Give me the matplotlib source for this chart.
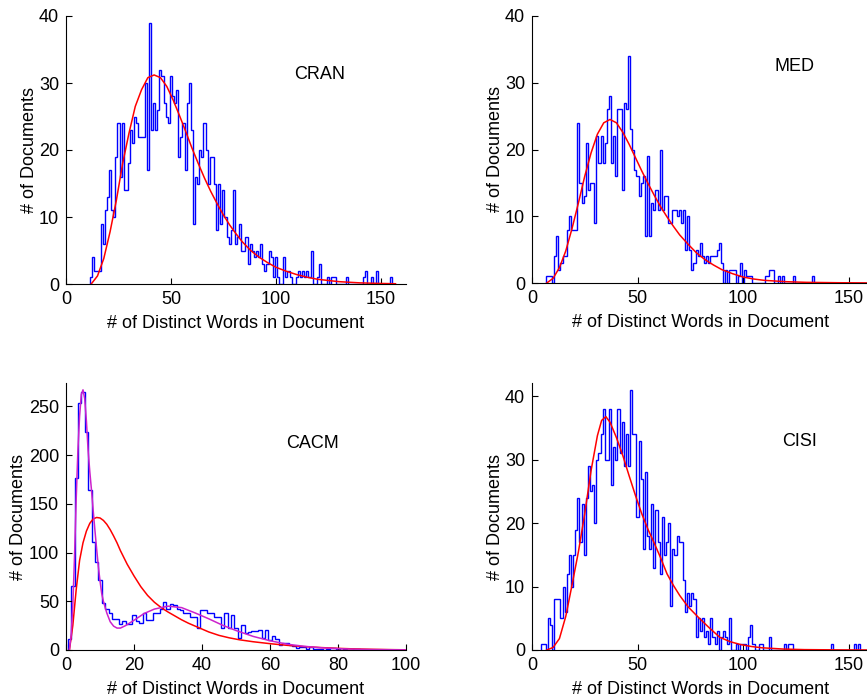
import numpy as np
import matplotlib.pyplot as plt

plt.rcParams['font.family'] = ['Liberation Sans', 'DejaVu Sans']
plt.rcParams['font.size'] = 13

# ---- data: histogram counts per number of distinct words (bin width 1) ----
cran_first = 12
cran_counts = [
    1, 4, 2, 2, 2, 9, 6, 11,                    # 12-19
    13, 17, 11, 10, 19, 24, 16, 24, 14, 14,     # 20-29
    18, 23, 21, 25, 24, 22, 22, 22, 30, 17,     # 30-39
    39, 23, 27, 23, 26, 32, 31, 27, 25, 24,     # 40-49
    31, 28, 27, 29, 19, 22, 24, 17, 27, 30,     # 50-59
    23, 9, 16, 15, 20, 19, 24, 20, 15, 19,      # 60-69
    19, 15, 8, 15, 9, 14, 10, 7, 6, 8,          # 70-79
    14, 6, 7, 9, 5, 5, 7, 3, 6, 5,              # 80-89
    4, 5, 4, 6, 3, 2, 3, 5, 4, 1,               # 90-99
    4, 1, 0, 0, 4, 1, 2, 1, 0, 0,               # 100-109
    1, 2, 1, 2, 1, 2, 1, 5, 0, 0,               # 110-119
    1, 3, 0, 0, 0, 1, 0, 1, 1, 0,               # 120-129
    0, 0, 0, 0, 1, 0, 0, 0, 0, 0,               # 130-139
    0, 0, 1, 2, 0, 0, 1, 0, 2, 0,               # 140-149
    0, 0, 0, 0, 0, 1]                           # 150-155

med_first = 7
med_counts = [
    1, 1, 1,                                    # 7-9
    0, 4, 7, 2, 3, 4, 4, 8, 10, 8,              # 10-19
    8, 8, 24, 15, 12, 13, 21, 14, 15, 15,       # 20-29
    9, 22, 18, 22, 18, 21, 26, 28, 18, 22,      # 30-39
    16, 26, 26, 14, 27, 26, 34, 23, 20, 17,     # 40-49
    16, 13, 15, 16, 7, 19, 7, 12, 11, 14,       # 50-59
    11, 20, 11, 13, 13, 9, 9, 11, 11, 10,       # 60-69
    11, 9, 11, 5, 10, 5, 2, 3, 5, 4,            # 70-79
    6, 4, 3, 4, 3, 4, 4, 4, 5, 6,               # 80-89
    3, 0, 2, 0, 2, 2, 2, 0, 1, 3,               # 90-99
    0, 2, 1, 1, 1, 0, 0, 0, 0, 0,               # 100-109
    0, 1, 1, 2, 2, 0, 0, 1, 0, 1,               # 110-119
    0, 0, 0, 0, 1, 0, 0, 0, 0, 0,               # 120-129
    0, 0, 0, 1, 0, 0, 0, 0, 0, 0,               # 130-139
    0, 0, 0, 0, 0, 0, 0, 0, 0, 0,               # 140-149
    0, 0, 0, 0, 0, 0, 0, 0, 0, 0]               # 150-159

cacm_first = 1
cacm_counts = [
    11, 66, 176, 253, 265, 224, 164, 111, 90,   # 1-9
    72, 48, 42, 38, 32, 32, 27, 30, 27, 27,     # 10-19
    36, 30, 28, 38, 31, 31, 38, 38, 42, 49,     # 20-29
    42, 47, 46, 42, 41, 38, 38, 34, 34, 23,     # 30-39
    41, 41, 38, 38, 34, 34, 23, 38, 23, 36,     # 40-49
    23, 12, 26, 17, 18, 20, 20, 21, 12, 21,     # 50-59
    10, 14, 11, 5, 7, 7, 5, 4, 2, 3,            # 60-69
    3, 1, 3, 1, 1, 1, 0, 1, 2, 2,               # 70-79
    1, 0, 1, 0, 0, 1, 1, 0, 0, 0,               # 80-89
    0, 0, 0, 0, 0, 0, 0, 0, 0]                  # 90-98

cisi_first = 5
cisi_counts = [
    1, 1, 0, 5, 4,                              # 5-9
    0, 8, 8, 8, 5, 10, 6, 12, 15, 10,           # 10-19
    15, 19, 24, 17, 23, 15, 24, 29, 25, 26,     # 20-29
    20, 30, 31, 34, 38, 30, 30, 38, 26, 32,     # 30-39
    30, 38, 31, 36, 29, 34, 29, 41, 34, 34,     # 40-49
    21, 33, 27, 16, 28, 18, 16, 23, 13, 22,     # 50-59
    17, 12, 21, 15, 17, 20, 7, 16, 15, 18,      # 60-69
    17, 17, 11, 6, 9, 7, 9, 8, 2, 5,            # 70-79
    3, 5, 2, 3, 1, 5, 2, 1, 3, 0,               # 80-89
    2, 3, 2, 1, 5, 0, 0, 1, 0, 1,               # 90-99
    1, 1, 0, 2, 4, 1, 0, 0, 1, 1,               # 100-109
    0, 0, 0, 2, 0, 0, 0, 0, 0, 0,               # 110-119
    1, 0, 1, 1, 0, 0, 0, 0, 0, 0,               # 120-129
    0, 0, 0, 0, 0, 0, 0, 0, 0, 0,               # 130-139
    0, 0, 1, 0, 0, 0, 0, 0, 0, 0,               # 140-149
    0, 0, 0, 1, 0, 1, 0, 0, 0, 0]               # 150-159

# ---- fitted curves ----
cran_fit_x = [12, 15, 18, 21, 24, 27, 30, 33, 36, 39, 42, 45, 48, 51, 54, 57,
              60, 63, 66, 69, 72, 75, 78, 81, 84, 88, 92, 96, 100, 105, 110,
              115, 120, 130, 140, 150, 157]
cran_fit_y = [0, 1.2, 3.8, 7.8, 12.5, 18, 22.5, 26.5, 29, 30.8, 31.2, 30.8,
              29.5, 27.5, 25.2, 22.8, 20.3, 18, 15.8, 13.8, 12, 10.3, 8.8,
              7.5, 6.3, 5.0, 4.0, 3.2, 2.5, 1.9, 1.4, 1.0, 0.7, 0.35, 0.17,
              0.08, 0.04]

med_fit_x = [7, 10, 13, 16, 19, 22, 25, 28, 31, 34, 37, 40, 43, 46, 49, 52,
             55, 58, 61, 64, 67, 70, 74, 78, 82, 86, 90, 95, 100, 105, 110,
             120, 130, 145, 160]
med_fit_y = [0, 0.7, 2.3, 4.8, 8.2, 12, 16, 19.5, 22.3, 24, 24.5, 24, 22.6,
             20.8, 18.8, 16.8, 14.9, 13.1, 11.4, 9.9, 8.5, 7.2, 5.8, 4.5, 3.5,
             2.7, 2.0, 1.4, 0.9, 0.6, 0.4, 0.2, 0.1, 0.04, 0.01]

cacm_fit_x = [1, 2, 3, 4, 5, 6, 7, 8, 9, 10, 11, 12, 13, 14, 15, 16, 18, 20,
              22, 24, 26, 28, 30, 32, 34, 36, 39, 42, 45, 48, 51, 55, 60, 65,
              70, 75, 80, 85, 90, 95, 100]
cacm_fit_y = [0, 25, 62, 92, 110, 122, 130, 134.5, 136, 135.5, 133, 129,
              123.5, 117, 110, 102, 88, 76, 65, 56, 49, 43.5, 39, 35, 31,
              27.5, 23, 18.5, 15, 12.5, 10.5, 8.5, 6.5, 4.8, 3.5, 2.5, 1.7,
              1.1, 0.7, 0.4, 0.2]

cacm_mix_x = [1, 1.5, 2, 2.5, 3, 3.5, 4, 4.5, 5, 5.5, 6, 6.5, 7, 7.5, 8, 8.5,
              9, 9.5, 10, 10.5, 11, 12, 13, 14, 15, 16, 17.5, 20, 23, 26, 30,
              34, 38, 42, 46, 50, 55, 60, 65, 70, 75, 80, 85, 90, 100]
cacm_mix_y = [0, 15, 45, 95, 155, 205, 240, 262, 267, 258, 235, 205, 183,
              164, 143, 123, 104, 86, 71, 58, 50, 38, 29, 24.5, 22.5, 22.5,
              25, 30.5, 37.5, 42, 45, 43.5, 38, 32, 25.5, 20, 14, 9.5, 6, 3.8,
              2.3, 1.4, 0.8, 0.45, 0.12]

cisi_fit_x = [7, 10, 13, 16, 19, 22, 25, 28, 31, 33, 35, 37, 40, 43, 46, 49,
              52, 55, 58, 61, 64, 67, 70, 74, 79, 84, 89, 94, 99, 104, 109,
              119, 129, 144, 160]
cisi_fit_y = [0, 0.4, 1.8, 5.3, 10.3, 15.5, 21.5, 28.3, 33.8, 36.2, 36.8,
              35.9, 33.5, 30.7, 27.5, 24.4, 21.5, 19, 16.8, 14.5, 12, 10.2,
              8.6, 6.8, 5.1, 3.5, 2.0, 1.3, 0.85, 0.55, 0.35, 0.15, 0.06, 0.02,
              0.0]

W, H = 867, 698
fig = plt.figure(figsize=(W / 100, H / 100), dpi=100)


def px_axes(left, top, right, bottom):
    return fig.add_axes([left / W, 1 - bottom / H, (right - left) / W, (bottom - top) / H])


def style(ax, xlim, ylim, xticks, yticks, name, name_xy):
    ax.set_xlim(*xlim)
    ax.set_ylim(*ylim)
    ax.set_xticks(xticks)
    ax.set_yticks(yticks)
    for s in ['top', 'right']:
        ax.spines[s].set_visible(False)
    for s in ['left', 'bottom']:
        ax.spines[s].set_linewidth(0.8)
    ax.tick_params(direction='in', length=4, width=0.8, labelsize=13, pad=5)
    ax.set_xlabel('# of Distinct Words in Document', fontsize=13, labelpad=5)
    ax.set_ylabel('# of Documents', fontsize=13, labelpad=1)
    ax.text(name_xy[0], name_xy[1], name, fontsize=13, ha='center', va='center')


def hist(ax, first, counts):
    edges = np.arange(first, first + len(counts) + 1) - 0.5
    ax.stairs(counts, edges, color='#0000ff', lw=1.0, baseline=0)


# CRAN
ax1 = px_axes(66, 16, 406, 284)
hist(ax1, cran_first, cran_counts)
ax1.plot(cran_fit_x, cran_fit_y, color='#ff0000', lw=1.1)
style(ax1, (0, 162), (0, 40), [0, 50, 100, 150], [0, 10, 20, 30, 40], 'CRAN', (121, 31.2))

# MED
ax2 = px_axes(532, 16, 869.6, 283)
hist(ax2, med_first, med_counts)
ax2.plot(med_fit_x, med_fit_y, color='#ff0000', lw=1.1)
style(ax2, (0, 160), (0, 40), [0, 50, 100, 150], [0, 10, 20, 30, 40], 'MED', (124.3, 32.4))

# CACM
ax3 = px_axes(66, 383, 406, 650)
hist(ax3, cacm_first, cacm_counts)
ax3.plot(cacm_fit_x, cacm_fit_y, color='#ff0000', lw=1.1)
ax3.plot(cacm_mix_x, cacm_mix_y, color='#cc22cc', lw=1.1)
style(ax3, (0, 100), (0, 274), [0, 20, 40, 60, 80, 100], [0, 50, 100, 150, 200, 250],
      'CACM', (72.6, 211.5))

# CISI
ax4 = px_axes(532, 383, 869.6, 650)
hist(ax4, cisi_first, cisi_counts)
ax4.plot(cisi_fit_x, cisi_fit_y, color='#ff0000', lw=1.1)
style(ax4, (0, 160), (0, 42.1), [0, 50, 100, 150], [0, 10, 20, 30, 40], 'CISI', (127, 32.9))

fig.savefig('out.png', dpi=100)
